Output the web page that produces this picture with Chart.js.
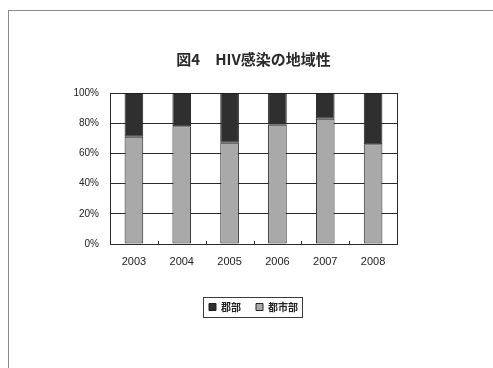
<!DOCTYPE html>
<html>
<head>
<meta charset="utf-8">
<script src="https://cdn.jsdelivr.net/npm/chart.js@4/dist/chart.umd.min.js"></script>
<style>
  html, body { margin: 0; padding: 0; background: #ffffff; }
  #wrap { position: absolute; left: 0; top: 0; width: 493px; height: 368px; overflow: hidden; }
  #frame { position: absolute; left: 8px; top: 10px; width: 520px; height: 420px;
           border-left: 1px solid #8c8c8c; border-top: 1px solid #8c8c8c; }
  canvas { position: absolute; left: 0; top: 0; }
</style>
</head>
<body>
<div id="wrap">
  <div id="frame"></div>
  <canvas id="chart" width="493" height="368"></canvas>
</div>
<script>
// Share of HIV cases by area, per year (percent)
const years = ['2003', '2004', '2005', '2006', '2007', '2008'];
const urbanShare = [71, 78, 67, 79, 83, 66];   // 都市部
const ruralShare = [29, 22, 33, 21, 17, 34];   // 郡部
const yTickValues = [0, 20, 40, 60, 80, 100];

const titleText = '図4　HIV感染の地域性';
const urbanLabel = '都市部';
const ruralLabel = '郡部';

const jpFont = "'Noto Sans CJK JP', 'Noto Sans', sans-serif";
const numFont = "'Liberation Sans', Arial, sans-serif";

// Title and legend are centred over the plot area rather than the whole canvas
const centreOnPlot = {
  id: 'centreOnPlot',
  afterLayout(chart) {
    const a = chart.chartArea;
    if (chart.titleBlock) { chart.titleBlock.left = a.left; chart.titleBlock.right = a.right; }
    if (chart.legend) { chart.legend.left = a.left; chart.legend.right = a.right; }
  }
};

// Plot frame (right edge) and the short inner tick marks between categories
const frameAndTicks = {
  id: 'frameAndTicks',
  afterDatasetsDraw(chart) {
    const { ctx, chartArea: a, scales: { x } } = chart;
    ctx.save();
    ctx.strokeStyle = '#2a2a2a';
    ctx.lineWidth = 1;
    ctx.beginPath();
    ctx.moveTo(Math.round(a.right) + 0.5, a.top);
    ctx.lineTo(Math.round(a.right) + 0.5, a.bottom);
    for (let i = 1; i < years.length; i++) {
      const bx = Math.round((x.getPixelForValue(i - 1) + x.getPixelForValue(i)) / 2) + 0.5;
      ctx.moveTo(bx, a.bottom);
      ctx.lineTo(bx, a.bottom - 3);
    }
    ctx.stroke();
    ctx.restore();
  }
};

// Box around the legend entries
const legendBox = {
  id: 'legendBox',
  afterDraw(chart) {
    const lg = chart.legend;
    if (!lg || !lg.legendHitBoxes || !lg.legendHitBoxes.length) return;
    let l = Infinity, r = -Infinity, t = Infinity, b = -Infinity;
    lg.legendHitBoxes.forEach(h => {
      l = Math.min(l, h.left); r = Math.max(r, h.left + h.width);
      t = Math.min(t, h.top); b = Math.max(b, h.top + h.height);
    });
    const { ctx } = chart;
    ctx.save();
    ctx.strokeStyle = '#3a3a3a';
    ctx.lineWidth = 1;
    ctx.strokeRect(Math.round(l - 6) + 0.5, Math.round(t - 5) + 0.5,
                   Math.round(r - l + 10), Math.round(b - t + 10));
    ctx.restore();
  }
};

new Chart(document.getElementById('chart'), {
  type: 'bar',
  data: {
    labels: years,
    datasets: [
      {
        label: urbanLabel,
        data: urbanShare,
        backgroundColor: '#a9a9a9',
        borderColor: '#262626',
        borderWidth: 1,
        borderSkipped: false
      },
      {
        label: ruralLabel,
        data: ruralShare,
        backgroundColor: '#2f2f2f',
        borderColor: '#1e1e1e',
        borderWidth: 1,
        borderSkipped: false
      }
    ]
  },
  options: {
    responsive: false,
    animation: false,
    devicePixelRatio: 1,
    layout: { padding: { left: 0, right: 96, top: 0, bottom: 46 } },
    datasets: { bar: { categoryPercentage: 1.0, barPercentage: 0.39 } },
    plugins: {
      title: {
        display: true,
        text: titleText,
        color: '#2a2a2a',
        font: { family: jpFont, size: 15, weight: 'bold' },
        padding: { top: 50, bottom: 25 },
        align: 'center'
      },
      legend: {
        display: true,
        position: 'bottom',
        reverse: true,
        labels: {
          color: '#222222',
          font: { family: jpFont, size: 10, weight: 'bold' },
          boxWidth: 7,
          boxHeight: 7,
          padding: 15
        }
      },
      tooltip: { enabled: false }
    },
    scales: {
      x: {
        stacked: true,
        grid: { display: false, drawTicks: false },
        border: { display: true, color: '#2a2a2a', width: 1 },
        ticks: { color: '#222222', font: { family: numFont, size: 11 }, padding: 11 },
        afterFit(scale) { scale.height = 43; }
      },
      y: {
        stacked: true,
        min: 0,
        max: 100,
        afterBuildTicks(scale) { scale.ticks = yTickValues.map(v => ({ value: v })); },
        grid: { color: '#2a2a2a', lineWidth: 1, drawTicks: false },
        border: { display: true, color: '#2a2a2a', width: 1 },
        ticks: {
          color: '#222222',
          font: { family: numFont, size: 10 },
          padding: 11,
          callback: v => v + '%'
        },
        afterFit(scale) { scale.width = 110; }
      }
    }
  },
  plugins: [centreOnPlot, frameAndTicks, legendBox]
});
</script>
</body>
</html>
